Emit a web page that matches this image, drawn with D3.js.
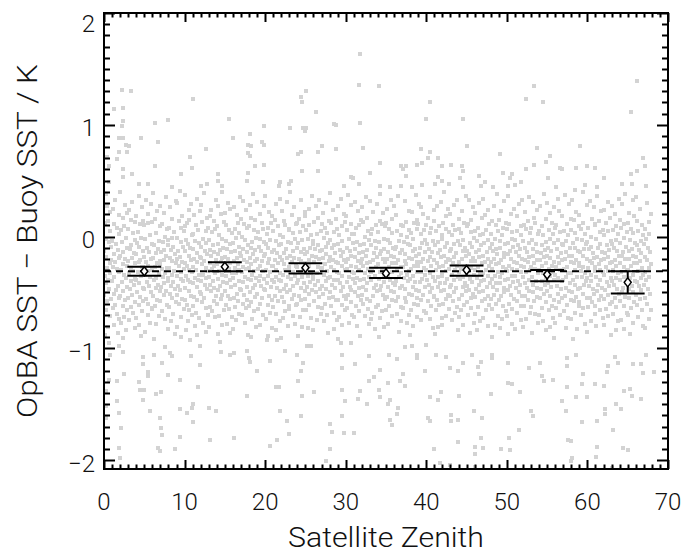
<!DOCTYPE html>
<html>
<head>
<meta charset="utf-8">
<script src="https://cdn.jsdelivr.net/npm/d3@7"></script>
<style>
  body { margin: 0; background: #fff; }
  text { font-family: Roboto, "Liberation Sans", sans-serif; font-weight: 300; fill: #111; }
</style>
</head>
<body>
<svg id="chart" width="687" height="553"></svg>
<script>
// zenith bins with mean / error range of the SST difference
var binCentres = [5, 15, 25, 35, 45, 55, 65];
var binMean = [-0.31, -0.27, -0.28, -0.33, -0.30, -0.34, -0.41];
var binLow = [-0.35, -0.31, -0.33, -0.37, -0.35, -0.40, -0.51];
var binHigh = [-0.27, -0.23, -0.24, -0.28, -0.26, -0.30, -0.31];
var biasLine = -0.31;

var xTicks = [0, 10, 20, 30, 40, 50, 60, 70];
var yTicks = [-2, -1, 0, 1, 2];

// isolated matchups: [zenith, difference]
var outliers = [
  [31.8,1.63],[31.6,1.36],[34.1,1.35],[2.2,1.31],[3.3,1.30],[11.1,1.23],[25.1,1.30],[24.4,1.25],[24.6,1.20],
  [26.3,1.11],[1.2,1.14],[2.4,1.15],[2.4,1.03],[2.2,0.99],[6.3,1.02],[7.9,1.04],[15.5,1.05],[18.1,0.92],
  [19.9,0.99],[23.1,0.97],[24.7,0.97],[25.1,0.97],[24.9,0.94],[28.6,1.01],[28.8,1.00],[31.8,1.02],[1.9,0.88],
  [2.4,0.88],[4.6,0.88],[16.0,0.88],[6.7,0.85],[2.7,0.82],[3.1,0.81],[1.9,0.76],[2.9,0.76],[12.6,0.78],
  [17.9,0.82],[18.2,0.81],[19.6,0.85],[19.9,0.82],[17.9,0.75],[18.1,0.72],[27.1,0.81],[26.5,0.76],[24.4,0.76],
  [24.1,0.74],[28.8,0.78],[32.1,0.79],[0.4,0.71],[1.6,0.69],[10.7,0.71],[6.3,0.63],[10.9,0.61],[18.7,0.63],
  [19.9,0.64],[2.4,0.60],[3.5,0.56],[2.4,0.53],[9.6,0.56],[14.1,0.56],[14.1,0.50],[17.9,0.57],[17.7,0.50],
  [24.6,0.59],[26.5,0.59],[34.2,0.66],[33.0,0.57],[30.6,0.53],[30.9,0.52],[31.6,0.47],[4.4,0.47],[5.4,0.47],
  [19.7,0.49],[21.9,0.49],[23.2,0.50],[22.9,0.47],[21.7,0.45],[12.1,0.45],[12.8,0.47],[14.6,0.45],[8.5,0.44],
  [29.8,0.45],[34.2,0.45],[0.6,0.63],[0.6,0.49],
  [53.4,1.35],[52.4,1.23],[54.5,1.20],[40.4,1.20],[40.0,1.05],[44.6,1.05],[66.2,1.39],[65.4,1.11],[45.0,0.81],
  [39.3,0.78],[40.4,0.76],[40.2,0.70],[41.4,0.70],[49.2,0.74],[53.8,0.79],[55.3,0.72],[59.1,0.81],[54.9,0.67],
  [53.4,0.64],[52.4,0.60],[36.9,0.63],[37.5,0.63],[37.1,0.60],[38.9,0.64],[39.5,0.66],[42.0,0.63],[43.1,0.64],
  [44.4,0.63],[44.5,0.59],[37.5,0.54],[41.4,0.53],[42.0,0.50],[41.1,0.47],[44.2,0.52],[46.6,0.54],[47.3,0.49],
  [49.5,0.57],[50.7,0.56],[50.4,0.52],[51.8,0.49],[56.6,0.61],[56.8,0.60],[58.6,0.61],[59.9,0.63],[61.0,0.61],
  [55.1,0.52],[62.0,0.52],[65.4,0.56],[66.2,0.59],[67.1,0.63],[66.9,0.70],[64.3,0.47],[65.5,0.47],[35.5,0.44],
  [36.8,0.45],[38.2,0.44],[39.5,0.46],[42.8,0.47],[44.6,0.44],[46.8,0.45],[48.3,0.44],[50.2,0.45],[51.0,0.46],
  [56.1,0.44],[58.4,0.42],[59.7,0.46],[61.2,0.44],[67.3,0.45],
  [0.6,-0.95],[1.9,-0.98],[0.8,-1.06],[2.3,-1.03],[4.9,-1.08],[6.2,-1.06],[7.6,-0.99],[8.2,-1.04],[8.4,-1.07],
  [7.2,-1.13],[4.9,-1.14],[5.4,-1.21],[5.4,-1.25],[2.5,-1.23],[1.6,-1.29],[0.6,-1.28],[4.3,-1.30],[4.5,-1.37],
  [5.0,-1.37],[4.9,-1.46],[6.4,-1.41],[7.1,-1.39],[8.0,-1.24],[9.4,-1.28],[10.8,-1.07],[11.9,-1.15],[11.7,-1.35],
  [11.1,-1.50],[10.9,-1.53],[10.3,-1.58],[11.1,-1.66],[1.6,-1.47],[1.9,-1.58],[2.1,-1.71],[1.9,-1.89],[2.0,-1.98],
  [0.3,-1.38],[0.3,-1.52],[0.3,-1.62],[5.7,-1.56],[7.0,-1.62],[7.1,-1.71],[7.2,-1.78],[6.7,-1.89],[7.0,-1.92],
  [8.8,-1.90],[9.4,-1.79],[13.0,-1.53],[13.9,-1.56],[13.2,-1.82],[16.1,-1.80],[11.9,-0.98],[14.4,-0.94],
  [14.5,-1.03],[15.6,-1.06],[16.1,-1.04],[17.8,-1.02],[18.0,-1.09],[18.1,-1.12],[19.0,-1.20],[20.6,-1.11],
  [20.2,-0.93],[21.5,-0.93],[22.5,-1.02],[17.8,-1.43],[21.3,-1.35],[21.7,-1.35],[21.8,-1.56],[22.7,-1.65],
  [23.0,-1.77],[21.5,-1.82],[20.6,-1.87],[24.4,-1.61],[24.6,-1.43],[24.1,-1.29],[24.4,-1.20],[24.7,-1.13],
  [26.1,-1.39],[23.9,-1.06],[25.2,-0.98],[25.7,-0.98],[28.1,-1.68],[28.3,-1.75],[28.0,-1.90],[27.6,-2.01],
  [29.6,-1.61],[29.9,-1.47],[29.6,-1.37],[29.8,-1.76],[31.0,-1.76],[31.8,-1.38],[31.5,-1.45],[32.6,-1.50],
  [32.9,-1.29],[34.1,-1.37],[34.3,-1.44],[29.6,-1.18],[31.1,-1.14],[32.9,-1.07],[34.2,-1.19],[33.5,-1.26],
  [29.6,-1.06],[29.4,-0.95],[30.7,-0.95],[9.4,-1.54],
  [35.3,-1.31],[36.7,-1.29],[37.1,-1.23],[37.3,-1.34],[35.5,-1.46],[35.3,-1.50],[36.5,-1.53],[36.4,-1.59],
  [35.5,-1.64],[35.7,-1.69],[39.9,-1.20],[38.9,-1.09],[38.9,-1.06],[36.4,-1.10],[35.4,-1.06],[37.3,-0.99],
  [38.2,-0.98],[40.0,-0.97],[41.2,-1.06],[42.4,-1.08],[42.9,-1.18],[43.9,-1.20],[44.5,-1.13],[45.7,-1.06],
  [46.8,-1.12],[46.4,-1.17],[48.1,-1.06],[48.1,-1.09],[46.5,-1.23],[50.2,-1.13],[52.8,-1.18],[54.1,-1.13],
  [54.6,-1.29],[55.7,-1.28],[54.3,-1.25],[57.5,-1.16],[57.5,-1.09],[58.6,-1.06],[59.5,-1.23],[59.3,-1.32],
  [61.0,-1.32],[62.0,-1.34],[62.6,-1.16],[62.4,-1.21],[63.4,-1.08],[63.8,-1.13],[65.7,-1.14],[66.7,-1.14],
  [66.9,-1.22],[67.3,-1.06],[68.3,-1.21],[64.6,-1.38],[65.3,-1.36],[65.5,-1.43],[66.6,-1.45],[63.6,-1.50],
  [64.2,-1.54],[62.2,-1.54],[62.2,-1.59],[61.2,-1.65],[63.2,-1.73],[59.9,-1.44],[58.6,-1.44],[56.8,-1.47],
  [57.5,-1.35],[57.4,-1.56],[59.3,-1.66],[57.6,-1.82],[58.0,-1.83],[58.1,-1.98],[58.0,-2.01],[61.1,-1.97],
  [64.4,-1.89],[65.0,-1.91],[63.0,-2.07],[53.0,-1.56],[53.3,-1.61],[51.5,-1.73],[50.3,-1.80],[50.4,-1.91],
  [49.3,-1.90],[48.0,-1.41],[51.6,-1.39],[50.6,-1.32],[50.2,-1.31],[45.9,-1.56],[46.9,-1.62],[44.0,-1.43],
  [43.1,-1.60],[43.9,-1.64],[43.1,-1.65],[40.2,-1.62],[40.4,-1.65],[41.4,-1.46],[41.8,-1.39],[40.4,-1.44],
  [46.8,-1.80],[47.0,-1.89],[46.0,-1.88],[46.1,-1.95],[43.9,-1.84],[40.9,-1.90],[41.7,-2.03],[42.9,-2.04],
  [46.0,-2.06],[61.2,-1.88]
];

// dense cloud, one string per whole degree of zenith:
// each entry is "<tenth of degree><difference in hundredths>"
var coreColumns = [
  "2+38 7+22 4+27 1+12 8+05 5+14 3-02 9-09 0-13 6-05 2-18 7-24 4-28 9-21 1-35 5-39 8-33 3-42 6-47 0-52 9-56 4-58 2-66 7-71 5-81 1-88",
  "4+33 8+19 1+25 6+08 3+11 9+02 0-04 5-07 7-12 2-16 8-19 4-23 1-27 6-29 9-32 3-36 0-40 7-44 5-48 2-51 8-55 4-61 1-64 6-69 9-74 3-79 7-86",
  "0+40 6+28 3+17 9+21 1+06 5+09 7-01 2-05 8-10 4-14 0-17 6-20 3-25 9-26 1-30 5-34 7-37 2-41 8-45 4-49 0-53 6-57 3-62 9-66 5-72 1-77 7-84 4-91",
  "5+31 1+24 8+13 3+15 6+03 0+07 9-03 4-08 2-11 7-15 5-19 0-22 8-24 3-28 6-31 1-33 9-38 4-40 7-43 2-47 5-52 0-55 8-59 3-63 6-68 1-75 9-82",
  "3+36 7+26 0+18 5+11 9+14 2+04 6-01 1-06 4-09 8-13 0-16 5-21 3-23 7-27 9-30 2-32 6-35 0-39 4-42 8-46 1-50 5-54 9-58 3-61 7-67 0-73 4-79 6-89",
  "8+29 2+33 5+20 0+10 4+12 7+01 1-02 9-07 3-10 6-14 0-18 8-20 2-23 5-26 9-29 4-31 1-34 7-36 3-41 6-44 0-47 8-50 2-56 5-60 9-65 4-70 7-77 1-85",
  "1+39 6+23 3+16 9+09 0+13 5+03 8-04 2-08 7-11 4-15 1-19 9-22 6-24 3-27 0-30 8-33 5-37 2-39 7-43 4-46 9-49 1-53 6-57 3-62 0-64 8-71 5-78 2-92",
  "7+35 4+21 0+27 8+07 2+11 6+00 3-05 9-08 5-12 1-14 7-17 4-21 0-25 8-28 2-29 6-33 3-36 9-40 5-42 1-45 7-49 4-52 0-58 8-61 2-67 6-74 9-83",
  "2+26 9+32 5+16 1+08 7+04 4-01 0-03 6-09 3-12 8-16 2-19 5-22 9-24 1-28 7-31 4-34 0-37 6-41 3-44 8-47 2-51 5-55 9-59 1-63 6-69 3-76 8-87",
  "4+41 0+30 7+18 3+14 9+05 6+08 1-01 5-05 8-09 2-13 4-18 0-20 7-23 3-26 9-29 6-32 1-35 5-38 8-40 2-44 4-48 0-52 7-56 3-60 9-65 6-72 1-81 5-90",
  "1+37 5+24 8+29 3+12 0+09 6+15 9+01 2-03 4-07 7-10 1-13 5-17 8-21 0-24 3-26 6-30 9-32 2-35 4-39 7-41 1-46 5-49 8-53 0-57 3-61 6-66 9-70 4-76 2-84 7-93",
  "6+34 2+19 9+23 4+10 0+02 7+06 3-04 8-06 1-11 5-15 9-18 2-20 6-23 0-27 4-30 8-34 3-37 7-39 1-42 5-45 9-50 2-54 6-57 0-62 4-68 8-73 3-80 5-88",
  "0+28 4+39 8+17 2+13 6+05 9+08 3-02 7-06 1-09 5-13 8-16 0-19 4-22 2-25 6-28 9-31 3-34 7-37 1-40 5-43 8-47 0-51 4-55 2-59 6-64 9-70 3-77 7-85",
  "3+24 9+33 6+14 1+18 4+04 8+07 0-03 5-08 2-12 7-14 3-17 9-21 1-24 6-26 4-29 8-33 0-36 5-40 2-43 7-46 3-49 9-53 6-58 1-63 4-67 8-72 0-81",
  "7+40 2+27 5+20 0+09 9+13 3+01 6-02 1-07 8-10 4-12 2-16 7-19 5-23 0-25 9-28 3-31 6-34 1-38 8-41 4-44 2-48 7-52 5-56 0-60 9-66 3-71 6-79 1-87",
  "4+30 0+21 7+25 2+10 5+06 9+03 1-04 6-07 3-11 8-14 0-18 4-20 7-24 2-27 5-29 9-33 1-35 6-39 3-42 8-45 0-49 4-53 7-56 2-61 5-65 9-72 3-78 6-86",
  "9+35 5+19 1+26 6+12 2+07 8+03 4-01 0-06 7-09 3-13 9-15 5-19 1-22 6-25 2-28 8-30 4-33 0-37 7-40 3-43 9-47 5-51 1-55 6-58 2-63 8-69 4-75 0-83",
  "2+32 6+24 0+16 4+11 8+08 1+00 5-03 9-08 3-11 7-14 0-17 4-21 8-23 2-27 6-29 1-32 5-36 9-38 3-41 7-45 0-48 4-52 8-57 2-60 6-64 1-70 5-77 9-88",
  "5+38 1+28 8+15 3+17 6+06 0+09 9-01 4-05 2-10 7-12 5-16 1-19 8-22 3-25 0-28 6-31 4-34 9-37 2-39 7-43 5-46 1-50 8-54 3-59 0-62 6-67 4-74 9-81 2-90",
  "8+27 3+20 0+31 6+12 1+04 7+07 4-02 9-05 2-09 5-13 8-17 0-20 6-22 3-26 1-29 7-31 4-35 9-38 2-40 5-44 8-47 0-51 6-55 3-60 1-65 7-70 4-79",
  "0+36 5+22 9+18 3+08 7+12 2+02 6-03 1-07 4-10 8-14 0-16 5-20 3-24 9-26 1-30 6-32 4-35 8-39 2-42 7-45 0-48 5-53 9-57 3-61 6-68 1-74 8-82 4-89",
  "4+29 8+34 2+15 6+09 0+05 9+01 3-04 7-08 1-12 5-15 9-18 2-21 6-24 0-26 4-30 8-33 3-36 7-39 1-41 5-46 9-49 2-53 6-58 0-63 4-69 8-76 3-84",
  "7+31 1+23 4+14 9+07 5+10 2+00 8-05 0-07 6-11 3-15 7-19 1-21 4-25 9-27 5-30 2-34 8-36 0-40 6-43 3-47 7-50 1-54 4-59 9-62 5-67 2-73 8-80 0-91",
  "1+40 6+26 3+19 8+11 0+06 4+03 7-02 2-06 9-10 5-13 1-17 6-19 3-23 8-26 0-29 4-32 7-35 2-38 9-42 5-44 1-48 6-52 3-56 8-61 0-65 4-71 7-78",
  "5+33 9+22 2+16 7+09 3+04 0+12 6-03 1-06 8-11 4-14 9-16 2-20 5-22 0-27 7-30 3-32 6-36 1-39 8-42 4-46 9-49 2-53 5-57 0-60 7-66 3-72 6-81 1-89",
  "8+36 4+25 0+18 5+10 1+06 7+01 3-02 9-07 6-10 2-14 8-17 4-21 0-24 5-26 1-30 7-33 3-35 9-38 6-41 2-45 8-48 4-51 0-56 5-61 1-66 7-73 3-82",
  "3+27 7+33 1+13 6+17 9+05 4+02 0-04 5-08 2-11 8-13 3-18 7-20 1-23 6-27 9-29 4-33 0-36 5-40 2-43 8-47 3-50 7-54 1-58 6-63 9-69 4-75 0-84",
  "6+30 2+21 9+14 4+08 0+11 7+03 3-01 8-06 5-09 1-12 6-16 2-19 9-22 4-25 0-28 7-31 3-34 8-37 5-40 1-44 6-47 2-51 9-55 4-60 0-64 7-70 3-76 8-86",
  "0+39 4+24 8+16 2+12 6+04 9+07 1-03 5-08 3-10 7-15 0-18 4-21 8-23 2-27 6-30 9-32 1-36 5-39 3-43 7-46 0-50 4-54 8-57 2-62 6-68 9-75 5-83",
  "4+34 8+20 1+27 5+09 9+13 2+01 6-04 0-07 3-12 7-14 4-17 8-21 1-24 5-26 9-30 2-33 6-35 0-39 3-42 7-45 4-49 8-53 1-57 5-61 9-66 2-72 6-79 0-92",
  "7+28 3+37 0+18 6+11 2+06 8+02 4-02 9-06 1-10 5-13 7-17 3-20 0-23 6-26 2-29 8-32 4-36 9-38 1-41 5-45 7-48 3-52 0-56 6-59 2-64 8-70 4-77",
  "1+31 5+23 9+15 3+08 7+10 0+02 4-05 8-08 2-11 6-15 1-18 5-22 9-24 3-27 7-30 0-33 4-37 8-39 2-42 6-46 1-50 5-53 9-57 3-62 7-67 0-72 4-80 8-89",
  "5+35 0+26 6+17 2+13 8+05 4+00 9-03 3-07 7-12 1-14 5-17 0-20 6-24 2-26 8-29 4-33 9-36 3-38 7-42 1-45 5-48 0-52 6-56 2-60 8-65 4-71 9-78",
  "9+29 4+22 0+32 7+10 3+07 1+02 6-04 2-08 8-10 5-15 9-18 4-21 0-23 7-27 3-30 1-32 6-35 2-39 8-43 5-46 9-49 4-53 0-58 7-63 3-68 1-74 6-83",
  "2+38 6+21 3+14 9+09 0+04 5+11 8-02 1-05 7-11 4-13 2-16 6-20 9-23 0-25 5-29 3-32 8-34 1-38 7-41 4-44 2-48 6-52 9-56 0-61 5-67 3-73 8-81 1-90",
  "6+33 1+25 8+16 4+07 0+12 7+03 2-03 5-06 9-10 3-14 6-17 1-20 8-24 4-27 0-30 7-32 2-36 5-39 9-42 3-45 6-49 1-54 8-57 4-62 0-66 7-71 2-78",
  "0+27 5+36 2+19 8+10 4+05 9+01 6-04 3-09 1-11 7-15 0-18 5-21 2-24 8-27 4-29 9-33 6-36 3-40 1-43 7-46 0-50 5-54 2-58 8-63 4-69 9-76 6-85",
  "3+32 8+23 5+13 1+09 9+06 6+00 2-05 7-07 0-12 4-16 8-19 3-22 5-25 1-27 9-31 6-34 2-37 7-40 0-44 4-47 8-51 3-55 5-59 1-64 9-70 6-77",
  "7+37 2+22 9+15 5+12 1+03 8+07 4-02 0-08 6-11 3-13 7-17 2-20 9-23 5-26 1-29 8-32 4-35 0-38 6-41 3-45 7-48 2-52 9-55 5-60 1-66 8-72 4-80 0-88",
  "1+29 6+20 4+26 0+11 7+06 3+02 9-03 5-06 2-10 8-14 1-16 6-20 4-23 0-26 7-28 3-32 9-34 5-38 2-41 8-45 1-49 6-52 4-57 0-61 7-67 3-75",
  "4+35 9+24 2+17 6+08 0+10 5+03 8-04 1-07 3-11 7-14 4-18 9-21 2-22 6-26 0-30 5-33 8-36 1-39 3-43 7-46 4-50 9-54 2-58 6-62 0-68 5-74 8-82",
  "8+31 3+27 0+14 6+09 2+05 9+01 5-05 1-08 7-12 4-15 8-18 0-21 3-24 6-27 2-30 9-33 5-36 1-40 7-42 4-45 8-49 0-53 3-57 6-61 2-66 9-73 5-81 1-87",
  "2+40 7+25 4+18 1+12 8+04 5+07 0-02 6-06 3-09 9-13 2-17 7-20 4-23 1-26 8-29 5-31 0-35 6-38 3-42 9-45 2-48 7-52 4-56 1-60 8-65 5-71 0-79",
  "5+28 0+20 8+33 3+10 6+06 2+01 9-04 4-07 1-11 7-15 5-18 0-21 3-24 8-26 6-30 2-34 9-36 4-39 1-43 7-46 5-50 0-53 3-58 8-63 6-68 2-75 9-84",
  "9+36 4+23 1+16 7+12 3+03 0+07 6-03 2-08 8-10 5-13 9-17 4-20 1-23 7-27 3-29 0-32 6-36 2-38 8-42 5-45 9-49 4-52 1-56 7-61 3-66 0-72 6-79",
  "3+33 8+26 5+15 0+09 6+04 2+11 9-01 4-06 7-09 1-13 3-16 8-19 5-22 0-26 6-28 2-31 9-34 4-38 7-41 1-44 3-48 8-51 5-55 0-59 6-64 2-70 9-77 4-86",
  "6+30 1+21 9+17 4+08 0+05 7+01 3-04 8-08 5-12 2-14 6-18 1-22 9-24 4-27 0-30 7-33 3-37 8-40 5-43 2-47 6-50 1-54 9-58 4-63 0-69 7-76 3-84",
  "0+34 6+24 3+19 8+11 4+06 1+02 7-03 2-06 9-10 5-14 0-17 6-20 3-23 8-26 4-30 1-33 7-35 2-39 9-42 5-45 0-49 6-53 3-56 8-61 4-66 1-73 7-80",
  "4+27 8+38 2+14 6+10 0+02 9+05 5-02 1-07 7-11 3-13 8-16 4-20 0-23 6-25 2-29 9-32 5-35 1-38 7-42 3-45 8-48 4-52 0-56 6-60 2-65 9-71 5-79 1-90",
  "7+32 3+23 0+15 5+08 9+12 4+01 1-04 8-07 2-10 6-15 7-18 3-21 0-24 5-27 9-29 4-33 1-36 8-39 2-42 6-46 7-50 3-53 0-57 5-62 9-67 4-74 1-82",
  "1+36 5+20 9+25 3+11 7+04 0+07 6-02 2-06 8-09 4-13 1-16 5-20 9-23 3-26 7-29 0-31 6-35 2-38 8-41 4-44 1-48 5-52 9-56 3-60 7-65 0-71 6-78 2-87",
  "5+29 9+33 2+18 7+09 3+05 8+01 0-03 4-08 6-11 1-14 5-17 9-20 2-24 7-26 3-30 8-32 0-35 4-40 6-43 1-46 5-50 9-53 2-58 7-62 3-68 8-75 0-83",
  "8+35 3+22 6+14 1+10 9+03 4+07 0-04 7-06 2-10 5-14 8-18 3-21 6-23 1-27 9-30 4-32 0-36 7-39 2-42 5-46 8-49 3-53 6-57 1-62 9-68 4-74 0-81",
  "2+31 7+24 4+17 0+08 5+12 9+02 1-03 6-07 3-11 8-14 2-17 7-21 4-24 0-27 5-29 9-33 1-36 6-40 3-43 8-46 2-50 7-54 4-58 0-63 5-69 9-77 1-86",
  "6+38 1+27 8+16 4+09 0+05 5+01 9-05 3-08 7-12 2-15 6-18 1-21 8-24 4-26 0-30 5-33 9-37 3-40 7-43 2-47 6-51 1-55 8-59 4-64 0-70 5-76 9-84",
  "0+30 4+21 9+26 6+12 2+06 7+02 3-02 8-06 1-10 5-13 0-17 4-19 9-23 6-26 2-29 7-32 3-35 8-39 1-42 5-45 0-49 4-53 9-57 6-62 2-66 7-73 3-81 8-91",
  "3+34 8+18 5+23 1+10 6+04 0+08 4-03 9-07 2-11 7-15 3-18 8-21 5-24 1-27 6-30 0-34 4-37 9-40 2-44 7-47 3-51 8-55 5-59 1-64 6-70 0-77",
  "7+29 2+37 9+16 5+11 1+05 6+01 3-04 0-08 8-10 4-14 7-17 2-20 9-23 5-27 1-29 6-33 3-36 0-39 8-42 4-46 7-49 2-53 9-57 5-61 1-67 6-73 3-82",
  "1+33 6+22 3+15 9+09 4+03 0+06 7-02 2-06 5-10 8-13 1-17 6-21 3-24 9-26 4-30 0-33 7-36 2-39 5-43 8-47 1-50 6-54 3-58 9-62 4-68 0-74 7-83 2-92",
  "4+40 9+28 0+19 5+12 2+07 7+02 3-03 8-07 6-11 1-14 4-17 9-20 0-24 5-27 2-31 7-33 3-36 8-40 6-43 1-46 4-51 9-55 0-59 5-64 2-70 7-78",
  "8+26 3+32 6+16 1+08 9+11 4+00 0-05 5-09 2-11 7-15 8-19 3-22 6-24 1-28 9-31 4-34 0-37 5-40 2-44 7-47 8-51 3-55 6-59 1-63 9-69 4-76 0-85",
  "2+36 7+23 4+14 0+10 5+04 9+06 1-02 6-07 3-10 8-14 2-18 7-21 4-25 0-27 5-30 9-32 1-36 6-39 3-43 8-46 2-49 7-53 4-57 0-62 5-66 9-73 1-80",
  "5+31 0+24 8+17 3+12 6+05 1+01 9-04 4-08 7-12 2-15 5-18 0-20 8-24 3-27 6-31 1-34 9-37 4-41 7-44 2-48 5-52 0-56 8-60 3-65 6-71 1-79 9-88",
  "9+34 4+20 1+27 6+09 2+06 8+02 5-03 0-07 3-10 7-13 9-17 4-21 1-23 6-26 2-30 8-33 5-37 0-40 3-43 7-47 9-51 4-55 1-59 6-63 2-69 8-76 5-84",
  "3+29 7+38 0+15 5+11 9+04 2+08 6-01 1-06 8-09 4-14 3-17 7-20 0-24 5-27 9-30 2-32 6-36 1-39 8-42 4-46 3-50 7-54 0-58 5-62 9-68 2-75 6-83",
  "6+33 1+21 8+18 4+07 0+12 7+03 3-03 9-06 5-11 2-13 6-17 1-20 8-24 4-26 0-30 7-34 3-37 9-40 5-44 2-47 6-50 1-55 8-59 4-64 0-70 7-77 3-87",
  "0+35 5+25 2+14 8+10 3+05 9+01 6-04 1-08 4-12 7-15 0-18 5-22 2-24 8-28 3-31 9-34 6-37 1-41 4-44 7-48 0-52 5-56 2-61 8-66 3-72 9-80",
  "4+30 9+20 6+13 1+07 7+02 3-02 0-07 5-10 8-14 2-18 4-21 9-25 6-28 1-32 7-36 3-39 0-43 5-47 8-51 2-55 4-60 9-66 6-74 1-82"
];

var allPoints = outliers.map(function(p) { return {zen: p[0], diff: p[1]}; });
coreColumns.forEach(function(col, deg) {
  col.split(" ").forEach(function(tok) {
    allPoints.push({zen: deg + (+tok[0]) / 10, diff: +tok.slice(1) / 100});
  });
});

var svg = d3.select("#chart");
var plotL = 104, plotR = 668, plotT = 13, plotB = 469;

var x = d3.scaleLinear().domain([0, 70]).range([plotL, plotR]);
var y = d3.scaleLinear().domain([-2.08, 2]).range([plotB, plotT]);

svg.append("clipPath").attr("id", "plotClip")
  .append("rect").attr("x", plotL).attr("y", plotT).attr("width", plotR - plotL).attr("height", plotB - plotT);

var pts = svg.append("g").attr("clip-path", "url(#plotClip)");
var ptSize = 4;
pts.selectAll("rect")
  .data(allPoints)
  .enter().append("rect")
    .attr("x", function(d) { return Math.round(x(d.zen) - ptSize / 2); })
    .attr("y", function(d) { return Math.round(y(d.diff) - ptSize / 2); })
    .attr("width", ptSize)
    .attr("height", ptSize)
    .attr("fill", "#d3d3d3");

// mean bias line
svg.append("line")
  .attr("x1", x(0)).attr("x2", x(70))
  .attr("y1", y(biasLine)).attr("y2", y(biasLine))
  .attr("stroke", "#000").attr("stroke-width", 2)
  .attr("stroke-dasharray", "7,5");

// error bars per zenith bin
var bins = binCentres.map(function(c, i) {
  return {c: c, mean: binMean[i], lo: binLow[i], hi: binHigh[i]};
});
var eb = svg.append("g").attr("stroke", "#000").attr("fill", "none");
bins.forEach(function(b) {
  eb.append("line").attr("x1", x(b.c)).attr("x2", x(b.c)).attr("y1", y(b.lo)).attr("y2", y(b.hi)).attr("stroke-width", 2);
  eb.append("line").attr("x1", x(b.c - 2.1)).attr("x2", x(b.c + 2.1)).attr("y1", y(b.lo)).attr("y2", y(b.lo)).attr("stroke-width", 2);
  eb.append("line").attr("x1", x(b.c - 2.1)).attr("x2", x(b.c + 2.1)).attr("y1", y(b.hi)).attr("y2", y(b.hi)).attr("stroke-width", 2);
  var cx = x(b.c), cy = y(b.mean);
  eb.append("path")
    .attr("d", "M" + cx + "," + (cy - 4.5) + "L" + (cx + 3.5) + "," + cy + "L" + cx + "," + (cy + 4.5) + "L" + (cx - 3.5) + "," + cy + "Z")
    .attr("fill", "#fff").attr("stroke-width", 1.5);
});

// frame and inward ticks on all four sides, like the original IDL plot
svg.append("rect")
  .attr("x", plotL).attr("y", plotT)
  .attr("width", plotR - plotL).attr("height", plotB - plotT)
  .attr("fill", "none").attr("stroke", "#000").attr("stroke-width", 2);

var minorX = d3.range(0, 71);
var minorY = d3.range(-20, 21).map(function(i) { return i / 10; });
var isMajorX = function(v) { return v % 10 === 0; };
var isMajorY = function(v) { return Math.abs(v - Math.round(v)) < 1e-6; };

var tickG = svg.append("g").attr("stroke", "#000").attr("stroke-width", 2);
minorX.forEach(function(v) {
  var len = isMajorX(v) ? 9 : 4.5;
  var px = Math.round(x(v)) + 0.5;
  tickG.append("line").attr("x1", px).attr("x2", px).attr("y1", plotB).attr("y2", plotB - len);
  tickG.append("line").attr("x1", px).attr("x2", px).attr("y1", plotT).attr("y2", plotT + len);
});
minorY.forEach(function(v) {
  var len = isMajorY(v) ? 11 : 6;
  var py = Math.round(y(v)) + 0.5;
  tickG.append("line").attr("y1", py).attr("y2", py).attr("x1", plotL).attr("x2", plotL + len);
  tickG.append("line").attr("y1", py).attr("y2", py).attr("x1", plotR).attr("x2", plotR - len);
});

// tick labels
svg.append("g").selectAll("text")
  .data(xTicks)
  .enter().append("text")
    .attr("x", function(d) { return x(d); })
    .attr("y", plotB + 41)
    .attr("text-anchor", "middle")
    .attr("font-size", 24)
    .text(function(d) { return d; });

svg.append("g").selectAll("text")
  .data(yTicks)
  .enter().append("text")
    .attr("x", plotL - 9)
    .attr("y", function(d) { return y(d) + (d === 2 ? 19 : 11.5); })
    .attr("text-anchor", "end")
    .attr("font-size", 24)
    .text(function(d) { return d < 0 ? "\u2212" + Math.abs(d) : d; });

// titles
svg.append("text")
  .attr("x", (plotL + plotR) / 2).attr("y", 547)
  .attr("text-anchor", "middle")
  .attr("font-size", 28)
  .attr("textLength", 196).attr("lengthAdjust", "spacingAndGlyphs")
  .text("Satellite Zenith");

svg.append("text")
  .attr("transform", "translate(37," + ((plotT + plotB) / 2) + ") rotate(-90)")
  .attr("text-anchor", "middle")
  .attr("font-size", 28)
  .attr("textLength", 354).attr("lengthAdjust", "spacingAndGlyphs")
  .text("OpBA SST \u2212 Buoy SST / K");
</script>
</body>
</html>
